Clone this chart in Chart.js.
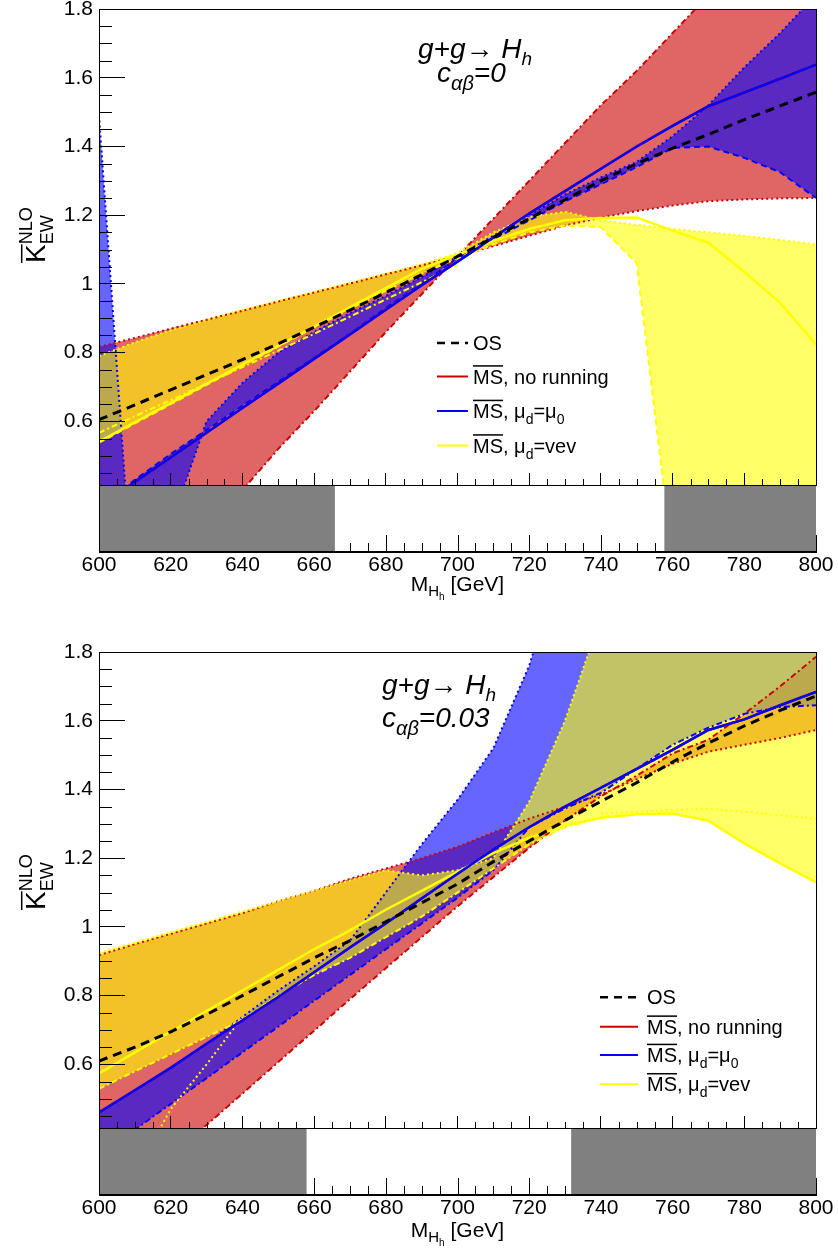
<!DOCTYPE html>
<html>
<head>
<meta charset="utf-8">
<script src="https://cdn.jsdelivr.net/npm/chart.js@4.4.1/dist/chart.umd.min.js"></script>
<style>
  body { margin: 0; background: #fff; }
  #wrap { position: relative; width: 838px; height: 1253px; }
  canvas { position: absolute; left: 0; }
</style>
</head>
<body>
<div id="wrap">
  <canvas id="panelTop" width="838" height="626" style="top:0px"></canvas>
  <canvas id="panelBot" width="838" height="627" style="top:626px"></canvas>
</div>
<script>
// masses where the K-factors are given [GeV]
const massGrid = [600, 610, 620, 630, 640, 650, 660, 670, 680, 690, 700, 710, 720, 730, 740, 750, 760, 770, 780, 790, 800];
const xTickVals = [600, 620, 640, 660, 680, 700, 720, 740, 760, 780, 800];
const xTickLabels = ['600', '620', '640', '660', '680', '700', '720', '740', '760', '780', '800'];
const yTickVals = [0.6, 0.8, 1, 1.2, 1.4, 1.6, 1.8];
const yTickLabels = ['0.6', '0.8', '1', '1.2', '1.4', '1.6', '1.8'];

// ---- c_ab = 0 ----
const osC0     = [0.605, 0.648, 0.692, 0.736, 0.780, 0.826, 0.874, 0.924, 0.975, 1.027, 1.080, 1.135, 1.190, 1.245, 1.300, 1.350, 1.395, 1.435, 1.478, 1.518, 1.558];
const noRunC0  = [0.350, 0.424, 0.495, 0.567, 0.639, 0.710, 0.782, 0.853, 0.925, 0.996, 1.065, 1.135, 1.205, 1.270, 1.335, 1.400, 1.460, 1.517, 1.557, 1.597, 1.638];
const mu0C0    = [0.350, 0.424, 0.495, 0.567, 0.639, 0.710, 0.782, 0.853, 0.925, 0.996, 1.065, 1.135, 1.205, 1.270, 1.335, 1.400, 1.460, 1.517, 1.557, 1.597, 1.638];
const vevC0    = [0.541, 0.597, 0.653, 0.709, 0.765, 0.820, 0.876, 0.932, 0.988, 1.044, 1.085, 1.125, 1.160, 1.185, 1.192, 1.193, 1.155, 1.120, 1.035, 0.945, 0.824];
const noRunAC0 = [0.817, 0.843, 0.870, 0.896, 0.922, 0.949, 0.975, 1.001, 1.028, 1.054, 1.081, 1.110, 1.140, 1.170, 1.193, 1.212, 1.228, 1.241, 1.246, 1.249, 1.250];
const noRunBC0 = [-0.06, 0.05, 0.17, 0.29, 0.40, 0.52, 0.63, 0.745, 0.86, 0.97, 1.08, 1.19, 1.30, 1.41, 1.52, 1.62, 1.73, 1.84, 1.95, 2.06, 2.17];
const mu0AC0   = [1.49, 0.02, 0.30, 0.60, 0.712, 0.80, 0.86, 0.915, 0.965, 1.02, 1.08, 1.14, 1.20, 1.26, 1.31, 1.355, 1.43, 1.52, 1.63, 1.73, 1.84];
const mu0BC0   = [0.35, 0.43, 0.505, 0.575, 0.645, 0.715, 0.785, 0.855, 0.93, 1.0, 1.075, 1.13, 1.185, 1.24, 1.29, 1.34, 1.396, 1.40, 1.367, 1.325, 1.25];
const vevAC0   = [0.79, 0.83, 0.865, 0.895, 0.925, 0.95, 0.977, 1.003, 1.03, 1.057, 1.09, 1.15, 1.195, 1.21, 1.185, 1.172, 1.16, 1.15, 1.14, 1.128, 1.115];
const vevBC0   = [0.538, 0.594, 0.65, 0.706, 0.762, 0.818, 0.873, 0.928, 0.98, 1.03, 1.075, 1.115, 1.15, 1.17, 1.165, 1.06, 0.2, -0.3, -0.3, -0.3, -0.3];
const vevVarC0 = [0.567, 0.615, 0.662, 0.71, 0.758, 0.806, 0.855, 0.905, 0.955, 1.005, 1.055, null, null, null, null, null, null, null, null, null, null];
const grayFromC0 = [600, 757.7];
const grayToC0   = [665.8, 800];

// ---- c_ab = 0.03 ----
const osC3     = [0.61, 0.65, 0.695, 0.745, 0.80, 0.855, 0.91, 0.96, 1.015, 1.07, 1.125, 1.19, 1.25, 1.31, 1.365, 1.42, 1.48, 1.535, 1.585, 1.63, 1.672];
const noRunC3  = [0.46, 0.525, 0.59, 0.66, 0.728, 0.796, 0.868, 0.94, 1.01, 1.083, 1.155, 1.225, 1.29, 1.35, 1.405, 1.46, 1.515, 1.573, 1.604, 1.645, 1.684];
const mu0C3    = [0.46, 0.525, 0.59, 0.66, 0.728, 0.796, 0.868, 0.94, 1.01, 1.083, 1.155, 1.225, 1.29, 1.35, 1.405, 1.46, 1.515, 1.573, 1.604, 1.645, 1.684];
const vevC3    = [0.574, 0.635, 0.695, 0.755, 0.815, 0.875, 0.935, 0.99, 1.05, 1.105, 1.16, 1.215, 1.26, 1.295, 1.318, 1.328, 1.33, 1.309, 1.243, 1.185, 1.13];
const noRunAC3 = [0.918, 0.95, 0.98, 1.01, 1.04, 1.075, 1.105, 1.14, 1.17, 1.2, 1.233, 1.275, 1.315, 1.35, 1.385, 1.43, 1.475, 1.51, 1.53, 1.55, 1.573];
const noRunBC3 = [0.15, 0.24, 0.333, 0.424, 0.515, 0.607, 0.698, 0.79, 0.88, 0.97, 1.06, 1.145, 1.23, 1.31, 1.38, 1.44, 1.505, 1.545, 1.62, 1.70, 1.786];
const mu0AC3   = [0.34, 0.41, 0.485, 0.56, 0.635, 0.71, 0.785, 0.86, 0.935, 1.01, 1.085, 1.165, 1.29, 1.345, 1.39, 1.46, 1.53, 1.58, 1.62, 1.64, 1.645];
const mu0BC3   = [0.46, 0.525, 0.59, 0.66, 0.738, 0.815, 0.885, 0.96, 1.10, 1.24, 1.37, 1.52, 1.76, 2.1, 2.5, 2.9, 3.3, 3.7, 4.1, 4.5, 4.9];
const vevAC3   = [0.925, 0.955, 0.985, 1.015, 1.045, 1.075, 1.105, 1.135, 1.165, 1.15, 1.165, 1.2, 1.364, 1.6, 1.9, 2.2, 2.5, 2.8, 3.1, 3.4, 3.7];
const vevBC3   = [0.529, 0.58, 0.63, 0.68, 0.73, 0.80, 0.86, 0.91, 0.97, 1.03, 1.10, 1.17, 1.24, 1.29, 1.318, 1.328, 1.33, 1.309, 1.243, 1.185, 1.13];
const vevVarC3 = [null, 0.28, 0.47, 0.60, 0.738, null, null, null, null, null, null, null, null, null, 1.33, 1.335, 1.34, 1.344, 1.335, 1.325, 1.315];
const grayFromC3 = [600, 731.7];
const grayToC3   = [657.9, 800];

const FONT = '"Liberation Sans", Arial, Helvetica, sans-serif';
const RED = '#cc0000', BLUE = '#0000ff', YEL = '#ffff00';
const DOT = [2, 3], DASH = [6, 4], DASHDOT = [6, 3, 2, 3];

const pts = arr => massGrid.map((m, i) => ({ x: m, y: arr[i] }));

function edge(arr, color, order, dash, fillColor) {
  return {
    data: pts(arr), borderColor: color, borderWidth: 2, borderDash: dash,
    pointRadius: 0, tension: 0, clip: 0, order, spanGaps: false,
    fill: fillColor ? '-1' : false, backgroundColor: fillColor || 'transparent'
  };
}
function central(arr, color, order, dash) {
  return {
    data: pts(arr), borderColor: color, borderWidth: dash ? 3 : 2.5, borderDash: dash || [],
    pointRadius: 0, tension: 0, clip: 0, order, fill: false
  };
}

// draws a run of text pieces: {t, s (size), dy, it (italic), ov (overline), keep (no advance)}
function rich(ctx, parts, x, y) {
  let cx = x;
  parts.forEach(p => {
    ctx.font = (p.it ? 'italic ' : '') + p.s + 'px ' + FONT;
    const yy = y + (p.dy || 0);
    ctx.fillText(p.t, cx, yy);
    const w = ctx.measureText(p.t).width;
    if (p.ov) ctx.fillRect(cx, yy - p.s * 0.716 - 4, w, 1.5);
    if (!p.keep) cx += w;
  });
}

const rootFrame = {
  id: 'rootFrame',
  afterDraw(chart, args, opts) {
    const { ctx, chartArea: a } = chart;
    const xs = chart.scales.x, ys = chart.scales.y;
    const L = opts.lay;
    const left = Math.round(a.left), bot = Math.round(a.bottom);
    const sb = bot + L.strip;
    ctx.save();
    ctx.setLineDash([]);
    ctx.globalAlpha = 1;
    ctx.fillStyle = '#000';

    // x ticks: at the bottom of the strip and under the plot frame
    for (let m = 600; m <= 800; m += 5) {
      const px = Math.round(xs.getPixelForValue(m));
      const major = m % 20 === 0;
      ctx.fillRect(px, sb - (major ? 17 : 9), 1, major ? 17 : 9);
      if (!major) ctx.fillRect(px, bot - 6, 1, 6);
    }
    // grey strip
    ctx.fillStyle = '#808080';
    L.grayFrom.forEach((g0, i) => {
      const p0 = xs.getPixelForValue(g0), p1 = xs.getPixelForValue(L.grayTo[i]);
      ctx.fillRect(p0, bot + 1, p1 - p0, L.strip - 1);
    });
    // minor y ticks, pointing into the frame
    ctx.fillStyle = '#000';
    for (let k = 9; k <= 36; k++) {
      if (k % 4 === 0) continue;
      const py = Math.round(ys.getPixelForValue(k * 0.05));
      ctx.fillRect(left, py, 13, 1);
    }
    // frame
    ctx.fillRect(left, Math.round(a.top), Math.round(a.right) - left, 1);
    ctx.fillRect(Math.round(a.right), Math.round(a.top), 1, bot - Math.round(a.top) + 1);
    ctx.fillRect(left, bot, Math.round(a.right) - left, 1);
    ctx.fillRect(left, Math.round(a.top), 1, sb - Math.round(a.top));
    ctx.fillRect(left, sb - 1, Math.round(a.right) - left + 1, 2);

    ctx.textBaseline = 'alphabetic';
    ctx.textAlign = 'left';

    // process label
    rich(ctx, [{ t: 'g+g\u2192 H', s: 28, it: true }, { t: 'h', s: 19, dy: 7, it: true }], L.ann[0], L.ann[1]);
    rich(ctx, [{ t: 'c', s: 28, it: true }, { t: '\u03b1\u03b2', s: 20, dy: 8, it: true }, { t: L.cab, s: 28, it: true }], L.ann[2], L.ann[3]);

    // legend
    const rows = L.legRows;
    const items = [
      { color: '#000', dash: [8, 6], parts: [{ t: 'OS', s: 20 }] },
      { color: RED, dash: [], parts: [{ t: 'MS', s: 20, ov: true }, { t: ', no running', s: 20 }] },
      { color: BLUE, dash: [], parts: [{ t: 'MS', s: 20, ov: true }, { t: ', \u03bc', s: 20 }, { t: 'd', s: 14, dy: 6 }, { t: '=\u03bc', s: 20 }, { t: '0', s: 14, dy: 6 }] },
      { color: YEL, dash: [], parts: [{ t: 'MS', s: 20, ov: true }, { t: ', \u03bc', s: 20 }, { t: 'd', s: 14, dy: 6 }, { t: '=vev', s: 20 }] }
    ];
    items.forEach((it, i) => {
      ctx.save();
      ctx.strokeStyle = it.color;
      ctx.lineWidth = it.dash.length ? 2.5 : 2;
      ctx.setLineDash(it.dash);
      ctx.beginPath();
      ctx.moveTo(L.legX[0], rows[i]);
      ctx.lineTo(L.legX[1], rows[i]);
      ctx.stroke();
      ctx.restore();
      rich(ctx, it.parts, L.legX[2], rows[i] + 7);
    });

    // x title
    const parts = [{ t: 'M', s: 21 }, { t: 'H', s: 15, dy: 5 }, { t: 'h', s: 10, dy: 9 }, { t: ' [GeV]', s: 21 }];
    let wsum = 0;
    parts.forEach(p => { ctx.font = p.s + 'px ' + FONT; wsum += ctx.measureText(p.t).width; });
    rich(ctx, parts, (a.left + a.right) / 2 - wsum / 2, L.xTitleY);

    // y title (rotated)
    ctx.save();
    ctx.translate(L.yTitle[0], L.yTitle[1]);
    ctx.rotate(-Math.PI / 2);
    rich(ctx, [{ t: 'K', s: 28, ov: true }, { t: 'NLO', s: 18, dy: -13, keep: true }, { t: 'EW', s: 18, dy: 8 }], 0, 0);
    ctx.restore();

    ctx.restore();
  }
};

function makePanel(id, d, L) {
  const datasets = [
    edge(d.noRunA, RED, 20, DOT),
    edge(d.noRunB, RED, 19, DASHDOT, 'rgba(204,0,0,0.6)'),
    edge(d.mu0A, BLUE, 18, L.blueDash[0]),
    edge(d.mu0B, BLUE, 17, L.blueDash[1], 'rgba(0,0,255,0.6)'),
    edge(d.vevA, YEL, 16, DOT),
    edge(d.vevB, YEL, 15, L.yelDash, 'rgba(255,255,0,0.6)'),
    edge(d.vevVar, YEL, 14, L.yelVarDash),
    central(d.noRun, RED, 5),
    central(d.vev, YEL, 4),
    central(d.mu0, BLUE, 3),
    central(d.os, '#000', 2, [9, 6])
  ];
  const canvasH = document.getElementById(id).height;
  return new Chart(document.getElementById(id), {
    type: 'line',
    data: { datasets },
    plugins: [rootFrame],
    options: {
      responsive: false,
      animation: false,
      events: [],
      layout: { padding: { left: 0, top: L.top, right: 22, bottom: 0 } },
      plugins: {
        legend: { display: false },
        tooltip: { enabled: false },
        filler: { drawTime: 'beforeDatasetsDraw', propagate: false },
        rootFrame: { lay: L }
      },
      scales: {
        x: {
          type: 'linear', min: 600, max: 800,
          afterFit: s => { s.height = canvasH - L.bottom; s.paddingLeft = 0; s.paddingRight = 0; },
          afterBuildTicks: s => { s.ticks = xTickVals.map(v => ({ value: v })); },
          ticks: {
            callback: (v, i) => xTickLabels[i], color: '#000', padding: 80,
            font: { family: FONT, size: 21 }, maxRotation: 0, autoSkip: false
          },
          grid: { display: true, drawOnChartArea: false, drawTicks: true, tickLength: -12, tickColor: '#000', tickWidth: 1, z: 1 },
          border: { display: false }
        },
        y: {
          type: 'linear', min: 0.415, max: 1.8,
          afterFit: s => { s.width = 99; s.paddingTop = 0; s.paddingBottom = 0; },
          afterBuildTicks: s => { s.ticks = yTickVals.map(v => ({ value: v })); },
          ticks: {
            callback: (v, i) => yTickLabels[i], color: '#000', padding: 32,
            font: { family: FONT, size: 21 }
          },
          grid: { display: true, drawOnChartArea: false, drawTicks: true, tickLength: -26, tickColor: '#000', tickWidth: 1, z: 1 },
          border: { display: false }
        }
      }
    }
  });
}

makePanel('panelTop', {
  os: osC0, noRun: noRunC0, mu0: mu0C0, vev: vevC0, vevVar: vevVarC0,
  noRunA: noRunAC0, noRunB: noRunBC0, mu0A: mu0AC0, mu0B: mu0BC0, vevA: vevAC0, vevB: vevBC0
}, {
  top: 9, bottom: 485, strip: 67, grayFrom: grayFromC0, grayTo: grayToC0,
  blueDash: [DOT, DASH], yelDash: DASH, yelVarDash: DASHDOT,
  ann: [418, 58, 437, 82], cab: '=0',
  legX: [437, 468, 473], legRows: [343, 376.5, 411, 445.5],
  xTitleY: 591, yTitle: [45, 263]
});

makePanel('panelBot', {
  os: osC3, noRun: noRunC3, mu0: mu0C3, vev: vevC3, vevVar: vevVarC3,
  noRunA: noRunAC3, noRunB: noRunBC3, mu0A: mu0AC3, mu0B: mu0BC3, vevA: vevAC3, vevB: vevBC3
}, {
  top: 26, bottom: 502, strip: 67, grayFrom: grayFromC3, grayTo: grayToC3,
  blueDash: [DASHDOT, DOT], yelDash: DASHDOT, yelVarDash: DOT,
  ann: [382, 68, 382, 101], cab: '=0.03',
  legX: [600, 638, 647], legRows: [371.3, 400.7, 429, 458.3],
  xTitleY: 611, yTitle: [45, 284]
});
</script>
</body>
</html>
